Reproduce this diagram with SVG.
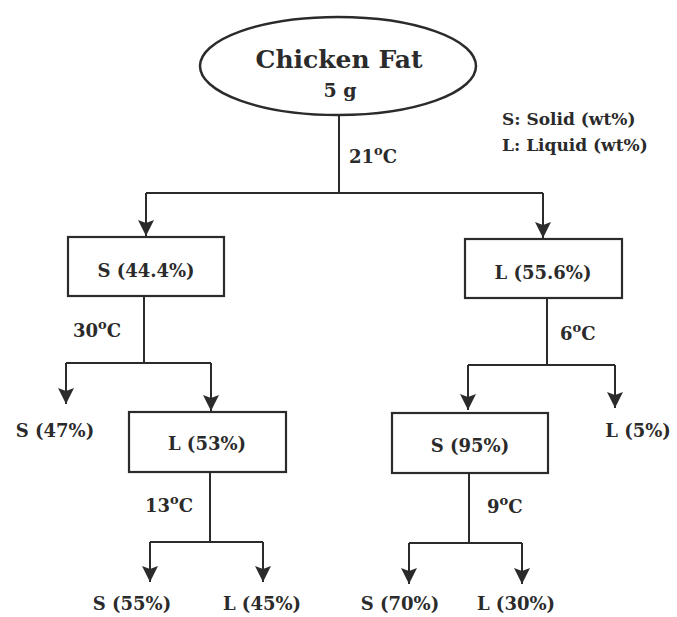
<svg xmlns="http://www.w3.org/2000/svg" width="677" height="617" viewBox="0 0 677 617">
<style>
  text { font-family: "DejaVu Serif", "Liberation Serif", serif; font-weight: bold; fill: #2b2b2b; }
  .lbl { font-size: 18px; text-anchor: middle; }
  .tmp { font-size: 18px; }
  .sup { font-size: 13px; }
  .leg { font-size: 17px; }
  .box { fill: #fff; stroke: #2b2b2b; stroke-width: 2.2; }
  .ln { fill: none; stroke: #2b2b2b; stroke-width: 2; }
</style>
<defs>
  <marker id="arr" markerUnits="userSpaceOnUse" markerWidth="18" markerHeight="18" viewBox="0 0 18 18" refX="17" refY="9" orient="auto">
    <path d="M1,1 L4,9 L1,17 L17,9 Z" fill="#2b2b2b"/>
  </marker>
</defs>
<rect width="677" height="617" fill="#ffffff"/>

<g id="connectors">
  <path class="ln" d="M339,115 V193 M146,193 H543"/>
  <path class="ln" d="M146,193 V236" marker-end="url(#arr)"/>
  <path class="ln" d="M543,193 V238" marker-end="url(#arr)"/>
  <path class="ln" d="M144,296 V363 M66,363 H211"/>
  <path class="ln" d="M66,363 V404" marker-end="url(#arr)"/>
  <path class="ln" d="M211,363 V411" marker-end="url(#arr)"/>
  <path class="ln" d="M547,298 V365 M468,365 H615"/>
  <path class="ln" d="M468,365 V410" marker-end="url(#arr)"/>
  <path class="ln" d="M615,365 V408" marker-end="url(#arr)"/>
  <path class="ln" d="M210,472 V542 M150,542 H263"/>
  <path class="ln" d="M150,542 V582" marker-end="url(#arr)"/>
  <path class="ln" d="M263,542 V582" marker-end="url(#arr)"/>
  <path class="ln" d="M469,473 V543 M409,543 H522"/>
  <path class="ln" d="M409,543 V584" marker-end="url(#arr)"/>
  <path class="ln" d="M522,543 V584" marker-end="url(#arr)"/>
  <text class="tmp" x="349" y="163">21<tspan class="sup" dy="-8">o</tspan><tspan dy="8">C</tspan></text>
  <text class="tmp" x="73" y="337">30<tspan class="sup" dy="-8">o</tspan><tspan dy="8">C</tspan></text>
  <text class="tmp" x="560" y="340">6<tspan class="sup" dy="-8">o</tspan><tspan dy="8">C</tspan></text>
  <text class="tmp" x="145" y="512">13<tspan class="sup" dy="-8">o</tspan><tspan dy="8">C</tspan></text>
  <text class="tmp" x="487" y="513">9<tspan class="sup" dy="-8">o</tspan><tspan dy="8">C</tspan></text>
</g>

<g id="root">
  <ellipse cx="338" cy="66" rx="138" ry="49" fill="#fff" stroke="#2b2b2b" stroke-width="2.5"/>
  <text x="339" y="68" font-size="25" text-anchor="middle">Chicken Fat</text>
  <text x="340" y="97" font-size="19" text-anchor="middle">5 g</text>
</g>

<g id="legend">
  <text class="leg" x="502" y="125">S: Solid (wt%)</text>
  <text class="leg" x="502" y="151">L: Liquid (wt%)</text>
</g>

<g id="s444">
  <rect class="box" x="68" y="237" width="156" height="59"/>
  <text class="lbl" x="146" y="277">S (44.4%)</text>
</g>
<g id="l556">
  <rect class="box" x="465" y="239" width="157" height="59"/>
  <text class="lbl" x="543" y="279">L (55.6%)</text>
</g>
<g id="s47">
  <text class="lbl" x="55" y="437">S (47%)</text>
</g>
<g id="l53">
  <rect class="box" x="129" y="412" width="157" height="60"/>
  <text class="lbl" x="207" y="450">L (53%)</text>
</g>
<g id="s95">
  <rect class="box" x="392" y="413" width="156" height="60"/>
  <text class="lbl" x="470" y="452">S (95%)</text>
</g>
<g id="l5">
  <text class="lbl" x="638" y="437">L (5%)</text>
</g>
<g id="s55">
  <text class="lbl" x="132" y="610">S (55%)</text>
</g>
<g id="l45">
  <text class="lbl" x="262" y="610">L (45%)</text>
</g>
<g id="s70">
  <text class="lbl" x="400" y="610">S (70%)</text>
</g>
<g id="l30">
  <text class="lbl" x="516" y="610">L (30%)</text>
</g>
</svg>
